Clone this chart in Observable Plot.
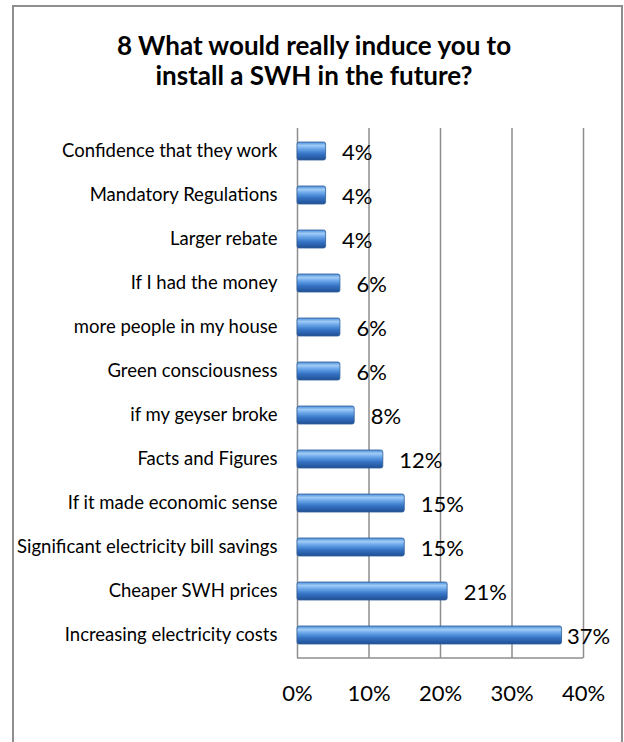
<!DOCTYPE html>
<html>
<head>
<meta charset="utf-8">
<script src="https://cdn.jsdelivr.net/npm/d3@7"></script>
<script src="https://cdn.jsdelivr.net/npm/@observablehq/plot@0.6"></script>
<style>
  html, body { margin: 0; padding: 0; background: #fff; }
  body { width: 624px; height: 742px; position: relative; overflow: hidden; font-family: Lato, "Open Sans", sans-serif; }
  #frame { position: absolute; left: 12px; top: 5px; width: 607px; height: 760px; border: 2px solid #8e8e8e; }
  #title { position: absolute; left: 2px; top: 30px; width: 624px; text-align: center; font-weight: bold; font-size: 26px; line-height: 30px; color: #000; }
  #chart { position: absolute; left: 0; top: 0; }
</style>
</head>
<body>
<div id="frame"></div>
<div id="title">8 What would really induce you to<br>install a SWH in the future?</div>
<div id="chart"></div>
<script>
const categories = [
  "Confidence that they work",
  "Mandatory Regulations",
  "Larger rebate",
  "If I had the money",
  "more people in my house",
  "Green consciousness",
  "if my geyser broke",
  "Facts and Figures",
  "If it made economic sense",
  "Significant electricity bill savings",
  "Cheaper SWH prices",
  "Increasing electricity costs"
];
const values = [4, 4, 4, 6, 6, 6, 8, 12, 15, 15, 21, 37];
const xTicks = [0, 10, 20, 30, 40];

const data = categories.map((c, i) => ({category: c, value: values[i]}));
const maxV = d3.max(values);

const defs = () => {
  const svg = d3.create("svg:defs");
  const g = svg.append("linearGradient").attr("id", "barGrad").attr("x1", 0).attr("y1", 0).attr("x2", 0).attr("y2", 1);
  [["0%", "#4f8fd8"], ["20%", "#9fcbf6"], ["38%", "#6aa6ea"], ["65%", "#3674c6"], ["100%", "#1f4f92"]]
    .forEach(([o, c]) => g.append("stop").attr("offset", o).attr("stop-color", c));
  const f = svg.append("filter").attr("id", "shadow").attr("x", "-10%").attr("y", "-30%").attr("width", "130%").attr("height", "180%");
  f.append("feDropShadow").attr("dx", 2).attr("dy", 3).attr("stdDeviation", 1.6).attr("flood-color", "#000").attr("flood-opacity", 0.3);
  return svg.node();
};

const chart = Plot.plot({
  width: 624,
  height: 742,
  marginLeft: 297,
  marginRight: 41,
  marginTop: 128,
  marginBottom: 84,
  style: {fontFamily: "Lato, 'Open Sans', sans-serif", background: "transparent", overflow: "visible"},
  x: {domain: [0, 40], ticks: xTicks, tickFormat: d => d + "%", label: null},
  y: {domain: categories, paddingInner: 0.59, paddingOuter: 0.295, label: null},
  marks: [
    defs,
    Plot.ruleX(xTicks, {stroke: "#8e8e8e", strokeWidth: 1.5, strokeOpacity: 1}),
    Plot.barX(data, {x: "value", y: "category", fill: "url(#barGrad)", stroke: "#2b5d9c", strokeWidth: 0.8, rx: 2}),
    Plot.axisX({ticks: xTicks, tickSize: 0, tickPadding: 27, fontSize: 22, tickFormat: d => d + "%", fill: "#000", label: null}),
    Plot.axisY({tickSize: 0, tickPadding: 20, fontSize: 18.5, fill: "#000", label: null}),
    Plot.text(data.filter(d => d.value !== maxV), {x: "value", y: "category", text: d => d.value + "%", textAnchor: "start",
      dx: 16, dy: 1.5, fontSize: 22, fill: "#000"}),
    Plot.text(data.filter(d => d.value === maxV), {x: "value", y: "category", text: d => d.value + "%", textAnchor: "start",
      dx: 5, dy: 1.5, fontSize: 22, fill: "#000"})
  ]
});

// bottom baseline
d3.select(chart).append("line")
  .attr("x1", 297).attr("x2", 583).attr("y1", 658).attr("y2", 658)
  .attr("stroke", "#8e8e8e").attr("stroke-width", 1.5);
d3.select(chart).selectAll("rect").filter(function() { return this.getAttribute("fill") === "url(#barGrad)"; })
  .attr("filter", "url(#shadow)");

document.getElementById("chart").appendChild(chart);
</script>
</body>
</html>
